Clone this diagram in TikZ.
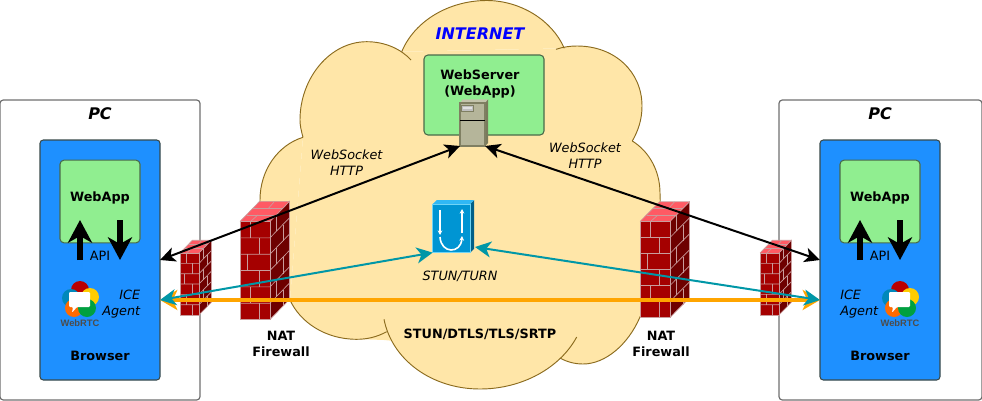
\documentclass[tikz,border=0pt]{standalone}
\usepackage{fontspec}
\setmainfont{DejaVu Sans}
\newfontfamily\logofont{Liberation Sans}
\usetikzlibrary{arrows.meta}
\definecolor{cloudfill}{HTML}{FFE6A8}
\definecolor{cloudline}{HTML}{8B6B1E}
\definecolor{boxgreen}{HTML}{90EE90}
\definecolor{boxblue}{HTML}{1E90FF}
\definecolor{boxline}{HTML}{3A4A4A}
\definecolor{appline}{HTML}{4A6A4A}
\definecolor{pcline}{HTML}{707070}
\definecolor{tealc}{HTML}{0097A7}
\definecolor{orangec}{HTML}{FFA500}
\definecolor{brickfront}{HTML}{A50000}
\definecolor{brickside}{HTML}{6E0000}
\definecolor{bricktop}{HTML}{FF5A64}
\definecolor{brickline}{HTML}{C99C9C}
\definecolor{srvfront}{HTML}{B5B59A}
\definecolor{srvtop}{HTML}{C4C4AC}
\definecolor{srvside}{HTML}{7A7A5C}
\definecolor{srvline}{HTML}{7F7F62}
\definecolor{stunfront}{HTML}{0095D3}
\definecolor{stuntop}{HTML}{2FB8F5}
\definecolor{stunside}{HTML}{005F88}
\definecolor{stunline}{HTML}{70D4F5}
\definecolor{rtcred}{HTML}{BB0000}
\definecolor{rtcyel}{HTML}{FFCC00}
\definecolor{rtcblu}{HTML}{0088BB}
\definecolor{rtcora}{HTML}{FF6A00}
\definecolor{rtcgrn}{HTML}{00A040}
\tikzset{
  pcbox/.style={draw=pcline,fill=white,line width=.9pt,rounded corners=2.5pt,inner sep=0pt,outer sep=0pt},
  browserbox/.style={draw=boxline,fill=boxblue,line width=.8pt,rounded corners=2.5pt,inner sep=0pt,outer sep=0pt,minimum width=90pt,minimum height=180pt},
  appbox/.style={draw=appline,fill=boxgreen,line width=.8pt,rounded corners=3pt,inner sep=0pt,outer sep=0pt},
  lbl/.style={font=\fontsize{9.6}{12}\selectfont,align=center,inner sep=0pt,text=black},
  lblb/.style={lbl,font=\fontsize{9.6}{12}\selectfont\bfseries},
  lbli/.style={lbl,font=\fontsize{9.6}{12}\selectfont\itshape},
  lblbi/.style={lbl,font=\fontsize{12}{14}\selectfont\bfseries\itshape},
  iconanchor/.style={inner sep=0pt,outer sep=0pt},
  blackarrow/.style={draw=black,line width=1.5pt,{Stealth[length=11.5pt,width=11pt,inset=3pt]}-{Stealth[length=11.5pt,width=11pt,inset=3pt]}},
  tealarrow/.style={draw=tealc,line width=1.5pt,{Stealth[length=12pt,width=12pt,inset=3.5pt]}-{Stealth[length=12pt,width=12pt,inset=3.5pt]}},
  orangearrow/.style={draw=orangec,line width=3pt,{Stealth[length=13pt,width=15pt,inset=3.5pt]}-{Stealth[length=13pt,width=15pt,inset=3.5pt]}},
  apiarrow/.style={draw=black,line width=4.5pt,-{Stealth[length=17pt,width=18pt,inset=5pt]}},
  brickl/.style={draw=brickline,line width=.5pt}
}
\newcommand\lobeA{(401.7,51.7) .. controls (415,20) and (450,0.5) .. (486.7,0.5) .. controls (520,0.5) and (552,20) .. (564.3,48.3)}
\newcommand\lobeB{(556,49.3) .. controls (563,47) and (570,46) .. (577,46) .. controls (615,46) and (642,72) .. (642,106) .. controls (642,120) and (638,131) .. (632.3,141)}
\newcommand\lobeC{(632.3,141) .. controls (650,152) and (660,172) .. (660,193) .. controls (662,240) and (655,290) .. (640,317) .. controls (628,345) and (605,364) .. (583,364) .. controls (575,364) and (567,362) .. (560,358)}
\newcommand\lobeD{(576.7,337) .. controls (560,368) and (522,389) .. (480,389) .. controls (432,389) and (392,360) .. (384,319.3)}
\newcommand\lobeE{(386.7,331.7) .. controls (377,337) and (367,339.3) .. (356.7,339.3) .. controls (325,339.3) and (300,322) .. (290,300)}
\newcommand\lobeF{(290,300) .. controls (270,270) and (260,235) .. (260,200) .. controls (260,170) and (278,145) .. (303,137.3)}
\newcommand\lobeG{(303,137.3) .. controls (301,130) and (300,125) .. (300,120) .. controls (300,78) and (330,41.7) .. (366.7,41.7) .. controls (385,41.7) and (401,49) .. (411,60)}
% firewall: #1 name, #2 x, #3 y of front top, #4 width, #5 height
\newcommand\firewall[5]{%
  \begin{scope}[shift={(#2,#3)},xscale=#4,yscale=#5]
    \fill[brickside] (1,0) -- (1.65,-.205) -- (1.65,.795) -- (1,1) -- cycle;
    \fill[bricktop] (0,0) -- (.65,-.205) -- (1.65,-.205) -- (1,0) -- cycle;
    \fill[brickfront] (0,0) rectangle (1,1);
    \foreach \k in {1,...,5} {
      \draw[brickl] (0,\k/6) -- (1,\k/6) -- (1.65,\k/6-.205);
    }
    \foreach \k/\a in {0/.33,1/.66,2/.25,3/.66,4/.33,5/.66} {
      \draw[brickl] (\a,\k/6) -- (\a,\k/6+1/6);
    }
    \foreach \k/\a in {0/.33,1/.66,2/.33,3/.66,4/.33,5/.66} {
      \draw[brickl] (1+.65*\a,\k/6-.205*\a) -- (1+.65*\a,\k/6+1/6-.205*\a);
    }
    \draw[brickl] (.22,-.068) -- (1.22,-.068);
    \draw[brickl] (.43,-.135) -- (1.43,-.135);
    \draw[brickl] (.35,0) -- (.6,-.068);
    \draw[brickl] (.95,-.135) -- (1.15,-.205);
    \draw[brickl] (0,0) -- (1,0) -- (1,1) -- (0,1) -- cycle;
    \draw[brickl] (1,0) -- (1.65,-.205) -- (1.65,.795) -- (1,1);
    \draw[brickl] (0,0) -- (.65,-.205) -- (1.65,-.205);
    \node[iconanchor] (#1) at (.5,.5) {};
  \end{scope}}
% WebRTC logo centred on x=#1
\newcommand\webrtc[2]{%
  \begin{scope}[shift={(#1,0)}]
    \fill[rtcred] (0,290) circle (9);
    \fill[rtcyel] (10,297) circle (9);
    \fill[rtcblu] (-9,298) circle (9);
    \fill[rtcora] (-6,308) circle (9);
    \fill[rtcgrn] (7,308) circle (9);
    \fill[white,rounded corners=.8pt] (-11,292) -- (10,292) -- (10,307) -- (-3,307) -- (-8,312.7) -- (-7,307) -- (-11,307) -- cycle;
    \node[iconanchor,font=\logofont\fontsize{7}{9}\selectfont\bfseries,text=black!70] (#2) at (0,323.5) {WebRTC};
  \end{scope}}
\begin{document}
\begin{tikzpicture}[x=.75pt,y=-.75pt]
\useasboundingbox (0,0) rectangle (982,400);
% cloud
\fill[cloudfill] (401.7,51.7) -- (564.3,48.3) -- (632.3,141) -- (640,317) -- (570,358) -- (384,340) -- (356,339) -- (290,300) -- (303,137.3) -- cycle;
\fill[cloudfill] \lobeA;
\fill[cloudfill] \lobeB;
\fill[cloudfill] \lobeC;
\fill[cloudfill] \lobeD;
\fill[cloudfill] \lobeE;
\fill[cloudfill] \lobeF;
\fill[cloudfill] \lobeG;
\draw[cloudline,line width=.7pt] \lobeA;
\draw[cloudline,line width=.7pt] \lobeB;
\draw[cloudline,line width=.7pt] \lobeC;
\draw[cloudline,line width=.7pt] \lobeD;
\draw[cloudline,line width=.7pt] \lobeE;
\draw[cloudline,line width=.7pt] \lobeF;
\draw[cloudline,line width=.7pt] \lobeG;
% PCs
\node[pcbox,minimum width=150pt,minimum height=225pt] (pcL) at (100,250) {};
\node[pcbox,minimum width=152.25pt,minimum height=225pt] (pcR) at (880.5,250) {};
\node[lblbi] (pcLt) at (100,114) {PC};
\node[lblbi] (pcRt) at (880,114) {PC};
% browsers
\node[browserbox] (browserL) at (100,260) {};
\node[browserbox] (browserR) at (880,260) {};
\node[appbox,minimum width=60pt,minimum height=62pt] (appL) at (100,201.5) {};
\node[appbox,minimum width=60pt,minimum height=62pt] (appR) at (880,201.5) {};
\node[lblb] (appLt) at (100,198) {WebApp};
\node[lblb] (appRt) at (880,198) {WebApp};
\node[lbl] (apiL) at (100,256) {API};
\node[lbl] (apiR) at (880,256) {API};
\coordinate (aLb) at (80,260); \coordinate (aLt) at (80,220);
\coordinate (bLt) at (120,220); \coordinate (bLb) at (120,260);
\coordinate (aRb) at (860,260); \coordinate (aRt) at (860,220);
\coordinate (bRt) at (900,220); \coordinate (bRb) at (900,260);
\draw[apiarrow] (aLb) -- (aLt);
\draw[apiarrow] (bLt) -- (bLb);
\draw[apiarrow] (aRb) -- (aRt);
\draw[apiarrow] (bRt) -- (bRb);
\webrtc{80}{logoL}
\webrtc{900}{logoR}
\node[lbli,align=right,anchor=east] (iceL) at (140.5,304) {ICE\\Agent};
\node[lbli,align=left,anchor=west] (iceR) at (840,304) {ICE\\Agent};
\node[lblb] (brL) at (100,356) {Browser};
\node[lblb] (brR) at (880,356) {Browser};
% web server
\node[appbox,minimum width=90pt,minimum height=60pt] (webserver) at (484,95) {};
\node[lblb] (webservert) at (480,83.5) {WebServer\\(WebApp)};
\fill[srvside] (485,102.7) -- (488,99.3) -- (488,143) -- (485,146) -- cycle;
\fill[srvtop] (460,102.7) -- (463,99.3) -- (488,99.3) -- (485,102.7) -- cycle;
\node[draw=srvline,fill=srvfront,line width=.9pt,inner sep=0pt,outer sep=0pt,minimum width=18.75pt,minimum height=32.25pt] (server) at (472.5,124.5) {};
\draw[black,line width=.75pt] (server.west |- 0,120) -- (server.east |- 0,120);
\draw[srvline,fill=black!25,line width=.4pt] (461,105) rectangle (473,111);
\draw[black!12,line width=.8pt] (462.5,108) -- (471.5,108);
% stun
\fill[stunside] (470,204) -- (474,200) -- (474,249) -- (470,252.7) -- cycle;
\fill[stuntop] (432.7,204) -- (437,200) -- (474,200) -- (470,204) -- cycle;
\node[draw=stunline,fill=stunfront,line width=.6pt,inner sep=0pt,outer sep=0pt,minimum width=28pt,minimum height=36.5pt] (stun) at (451.3,228.3) {};
\draw[white,line width=1.2pt,-{Stealth[length=3.5pt,width=3.5pt]}] (440,210) -- (440,235);
\draw[white,line width=1.2pt,-{Stealth[length=3.5pt,width=3.5pt]}] (462,233) -- (462,209);
\draw[white,line width=1.2pt,-{Stealth[length=3.5pt,width=3.5pt]}] (440,237) .. controls (441,254) and (461,254) .. (462,236);
\coordinate (stunE) at (475,247);
\node[lbli] (stunt) at (460,276) {STUN/TURN};
% firewalls
\firewall{fwA}{240}{221.5}{30}{98}
\firewall{fwB}{180}{253}{19}{62}
\firewall{fwC}{640}{221.5}{30}{96}
\firewall{fwD}{760}{253}{19}{62}
% labels
\node[lblbi,text=blue] (inet) at (480,34) {INTERNET};
\node[lbli] (wsL) at (346.5,163) {WebSocket\\HTTP};
\node[lbli] (wsR) at (585,156) {WebSocket\\HTTP};
\node[lblb] (natL) at (281,344) {NAT\\Firewall};
\node[lblb] (natR) at (661,344) {NAT\\Firewall};
\node[lblb] (proto) at (480,334) {STUN/DTLS/TLS/SRTP};
% connectors
\coordinate (mediaL) at (browserL.east |- 0,300);
\coordinate (mediaR) at (browserR.west |- 0,300);
\draw[orangearrow] (mediaL) -- (mediaR);
\draw[blackarrow] (browserL.east) -- (server.south west);
\draw[blackarrow] (browserR.west) -- (server.south east);
\draw[tealarrow] (mediaL) -- (stun.south west);
\draw[tealarrow] (mediaR) -- (stunE);
\end{tikzpicture}
\end{document}
